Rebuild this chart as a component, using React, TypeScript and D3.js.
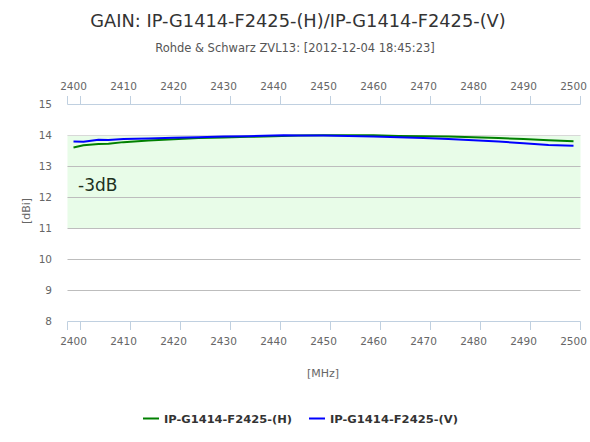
import { line, scaleLinear } from 'd3'

const freqH = [2400, 2402, 2405, 2407, 2410, 2415, 2420, 2425, 2430, 2435, 2440, 2445, 2450, 2455, 2460, 2465, 2470, 2475, 2480, 2485, 2490, 2495, 2500]
const gainH = [13.6, 13.67, 13.71, 13.72, 13.77, 13.82, 13.86, 13.9, 13.92, 13.94, 13.96, 13.98, 13.99, 13.99, 13.99, 13.97, 13.96, 13.95, 13.93, 13.9, 13.87, 13.83, 13.8]
const freqV = [2400, 2402, 2405, 2407, 2410, 2415, 2420, 2425, 2430, 2435, 2440, 2442, 2445, 2450, 2455, 2460, 2465, 2470, 2475, 2480, 2485, 2490, 2495, 2500]
const gainV = [13.79, 13.78, 13.85, 13.84, 13.87, 13.89, 13.91, 13.93, 13.95, 13.96, 13.98, 13.99, 13.98, 13.98, 13.97, 13.95, 13.93, 13.9, 13.87, 13.83, 13.79, 13.73, 13.68, 13.65]

const xTicks = [2400, 2410, 2420, 2430, 2440, 2450, 2460, 2470, 2480, 2490, 2500]
const yTicks = [8, 9, 10, 11, 12, 13, 14, 15]
const band = [11, 14]

const series = [
    { name: 'IP-G1414-F2425-(H)', color: '#008000', freq: freqH, gain: gainH },
    { name: 'IP-G1414-F2425-(V)', color: '#0000ff', freq: freqV, gain: gainV }
]

const W = 590
const H = 442
const left = 67.5
const right = 580.5
const top = 104
const bottom = 321
const font = '"DejaVu Sans", Verdana, sans-serif'

export default function App() {
    const x = scaleLinear().domain([2400, 2500]).range([73.5, 573.5])
    const y = scaleLinear().domain([8, 15]).range([bottom, top])
    const tickOff = 7

    const path = (s) => line<number>()
        .x((_, i) => x(s.freq[i]))
        .y(d => y(d))(s.gain)

    return (
        <svg width={W} height={H} style={{ position: 'absolute', left: 0, top: 0, background: '#fff' }} fontFamily={font}>
            <text x={298} y={27} textAnchor="middle" fontSize={17.8} fill="#333">GAIN: IP-G1414-F2425-(H)/IP-G1414-F2425-(V)</text>
            <text x={W / 2} y={52} textAnchor="middle" fontSize={11.5} fill="#555">Rohde &amp; Schwarz ZVL13: [2012-12-04 18:45:23]</text>

            <rect x={left} y={y(band[1])} width={right - left} height={y(band[0]) - y(band[1])} fill="#e8fce8" />
            {yTicks.filter(v => v > 8 && v < 15).map(v => (
                <line key={v} x1={left} x2={right} y1={y(v) + 0.5} y2={y(v) + 0.5} stroke={v === 14 ? '#d8d8d8' : '#bdbdbd'} strokeWidth={1} />
            ))}
            <text x={78} y={191} fontSize={17} fill="#203020">-3dB</text>

            {/* top and bottom axes */}
            {[top, bottom].map((ay, k) => (
                <g key={k}>
                    <line x1={left} x2={right} y1={ay + 0.5} y2={ay + 0.5} stroke="#c0d0e0" />
                    {[left - tickOff, ...xTicks.map(x)].map((v, i) => (
                        <line key={i} x1={v + tickOff} x2={v + tickOff} y1={ay + 0.5} y2={k === 0 ? ay - 8 : ay + 9} stroke="#c0d0e0" />
                    ))}
                    {xTicks.map(v => (
                        <text key={v} x={x(v)} y={k === 0 ? 90 : 345} textAnchor="middle" fontSize={10.5} fill="#666">{v}</text>
                    ))}
                </g>
            ))}

            {yTicks.map(v => (
                <text key={v} x={52} y={y(v) + 4} textAnchor="end" fontSize={10.5} fill="#666">{v}</text>
            ))}
            <text transform="translate(30,211) rotate(-90)" textAnchor="middle" fontSize={11} fill="#666">[dBi]</text>
            <text x={323} y={377} textAnchor="middle" fontSize={11} fill="#666">[MHz]</text>

            {series.map(s => (
                <path key={s.name} d={path(s)} fill="none" stroke={s.color} strokeWidth={2} strokeLinejoin="round" />
            ))}

            {/* legend */}
            {series.map((s, i) => {
                const lx = i === 0 ? 143 : 309
                return (
                    <g key={s.name}>
                        <line x1={lx} x2={lx + 16} y1={418.5} y2={418.5} stroke={s.color} strokeWidth={2} />
                        <text x={lx + 21} y={422.5} fontSize={11} fontWeight="bold" fill="#333" textLength={128} lengthAdjust="spacingAndGlyphs">{s.name}</text>
                    </g>
                )
            })}
        </svg>
    )
}
